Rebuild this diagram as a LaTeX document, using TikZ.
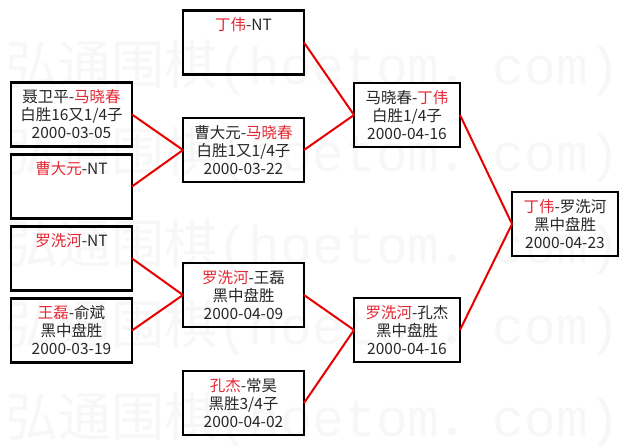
\documentclass[tikz,border=0pt]{standalone}
\usepackage{fontspec}
\setmainfont{Noto Sans CJK SC}
\newfontfamily\wmmono{Liberation Mono}
\definecolor{tred}{RGB}{228,40,52}
\definecolor{lred}{RGB}{232,0,0}
\definecolor{wm}{RGB}{247,247,247}
\newcommand\redtxt[1]{\textcolor{tred}{#1}}
\begin{document}
\begin{tikzpicture}[x=1pt,y=-1pt,
  box/.style={draw=black, line width=2.2pt, minimum height=64pt, inner sep=0pt, outer sep=0pt},
  wbox/.style={box, minimum width=121pt},
  nbox/.style={box, minimum width=106pt},
  txt/.style={anchor=north, align=center, inner sep=0pt, font=\fontsize{15.5}{18}\selectfont, text=black!85},
  link/.style={draw=lred, line width=2pt},
  wmark/.style={anchor=west, inner sep=0pt, text=wm, font=\fontsize{53}{53}\selectfont}]
\useasboundingbox (0,0) rectangle (627,445);
% watermark
\foreach \y/\n in {68/1,155/2,247/3,328/4,420/5}
  \node[wmark] (wm\n) at (5,\y) {弘通围棋{\wmmono(hoetom}．{\wmmono com)}};
% boxes
\node[wbox] (a1) at (71.5,114.5) {};
\node[wbox] (a2) at (71.5,186.5) {};
\node[wbox] (a3) at (71.5,258.5) {};
\node[wbox] (a4) at (71.5,330.5) {};
\node[wbox] (b1) at (243.5,42.5) {};
\node[wbox] (b2) at (243.5,150) {};
\node[wbox] (b3) at (243.5,295) {};
\node[wbox] (b4) at (243.5,403) {};
\node[nbox] (c1) at (407,115) {};
\node[nbox] (c2) at (407,330) {};
\node[nbox] (d) at (565,224) {};
% texts
\node[txt] (a1t) at ([yshift=-7pt]a1.north) {聂卫平-\redtxt{马晓春}\\白胜16又1/4子\\2000-03-05};
\node[txt] (a2t) at ([yshift=-7pt]a2.north) {\redtxt{曹大元}-NT};
\node[txt] (a3t) at ([yshift=-7pt]a3.north) {\redtxt{罗洗河}-NT};
\node[txt] (a4t) at ([yshift=-7pt]a4.north) {\redtxt{王磊}-俞斌\\黑中盘胜\\2000-03-19};
\node[txt] (b1t) at ([yshift=-7pt]b1.north) {\redtxt{丁伟}-NT};
\node[txt] (b2t) at ([yshift=-7pt]b2.north) {曹大元-\redtxt{马晓春}\\白胜1又1/4子\\2000-03-22};
\node[txt] (b3t) at ([yshift=-7pt]b3.north) {\redtxt{罗洗河}-王磊\\黑中盘胜\\2000-04-09};
\node[txt] (b4t) at ([yshift=-7pt]b4.north) {\redtxt{孔杰}-常昊\\黑胜3/4子\\2000-04-02};
\node[txt] (c1t) at ([yshift=-7pt]c1.north) {马晓春-\redtxt{丁伟}\\白胜1/4子\\2000-04-16};
\node[txt] (c2t) at ([yshift=-7pt]c2.north) {\redtxt{罗洗河}-孔杰\\黑中盘胜\\2000-04-16};
\node[txt] (dt) at ([yshift=-7pt]d.north) {\redtxt{丁伟}-罗洗河\\黑中盘胜\\2000-04-23};
% connectors
\draw[link] (a1.east) -- (b2.west);
\draw[link] (a2.east) -- (b2.west);
\draw[link] (a3.east) -- (b3.west);
\draw[link] (a4.east) -- (b3.west);
\draw[link] (b1.east) -- (c1.west);
\draw[link] (b2.east) -- (c1.west);
\draw[link] (b3.east) -- (c2.west);
\draw[link] (b4.east) -- (c2.west);
\draw[link] (c1.east) -- (d.west);
\draw[link] (c2.east) -- (d.west);
\end{tikzpicture}
\end{document}
